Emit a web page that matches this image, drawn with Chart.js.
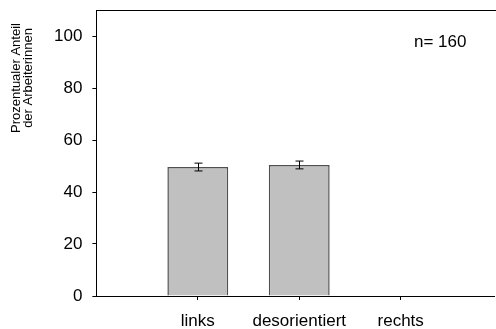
<!DOCTYPE html>
<html>
<head>
<meta charset="utf-8">
<script src="https://cdn.jsdelivr.net/npm/chart.js@4"></script>
<style>
  html, body { margin: 0; padding: 0; background: #fff; }
  #wrap { width: 496px; height: 329px; }
</style>
</head>
<body>
<div id="wrap"><canvas id="c" width="496" height="329"></canvas></div>
<script>
// Orientation of workers (share in %), n = 160
const categories = ['links', 'desorientiert', 'rechts'];
const positions = [1, 2, 3];
const shares = [49.6, 50.4, 0];
const errors = [1.5, 1.5, 0];
const yTicks = [0, 20, 40, 60, 80, 100];
const yTitle = ['Prozentualer Anteil', 'der Arbeiterinnen'];
const sampleNote = 'n= 160';

const FONT = "'Liberation Sans', Arial, sans-serif";

// error bars, top frame line, axis title and sample-size note
const extras = {
  id: 'extras',
  afterDatasetsDraw(chart) {
    const { ctx, chartArea, scales } = chart;
    const x = scales.x, y = scales.y;
    ctx.save();
    ctx.strokeStyle = '#000';
    ctx.lineWidth = 1;
    shares.forEach((v, i) => {
      if (!errors[i]) return;
      const px = Math.round(x.getPixelForValue(positions[i])) + 0.5;
      const top = y.getPixelForValue(v + errors[i]);
      const bot = y.getPixelForValue(v - errors[i]);
      ctx.beginPath();
      ctx.moveTo(px, top); ctx.lineTo(px, bot);
      ctx.moveTo(px - 4, top); ctx.lineTo(px + 4, top);
      ctx.moveTo(px - 4, bot); ctx.lineTo(px + 4, bot);
      ctx.stroke();
    });
    ctx.beginPath();
    ctx.moveTo(chartArea.left, chartArea.top + 0.5);
    ctx.lineTo(chart.width, chartArea.top + 0.5);
    ctx.stroke();

    ctx.fillStyle = '#000';
    ctx.font = '17px ' + FONT;
    ctx.textAlign = 'left';
    ctx.textBaseline = 'alphabetic';
    ctx.fillText(sampleNote, 414, 47);

    // rotated y-axis title, two centred lines
    ctx.font = '13px ' + FONT;
    ctx.textAlign = 'center';
    ctx.translate(0, 78);
    ctx.rotate(-Math.PI / 2);
    ctx.fillText(yTitle[0], 0, 20);
    ctx.fillText(yTitle[1], 0, 32);
    ctx.restore();
  }
};

new Chart(document.getElementById('c'), {
  type: 'bar',
  data: {
    datasets: [{
      data: positions.map((p, i) => ({ x: p, y: shares[i] })),
      backgroundColor: '#c0c0c0',
      borderColor: '#505050',
      borderWidth: 1.5,
      barPercentage: 0.6,
      categoryPercentage: 1.0
    }]
  },
  options: {
    responsive: false,
    animation: false,
    devicePixelRatio: 1,
    layout: { padding: { top: 10, right: 2, left: 44, bottom: -14 } },
    plugins: { legend: { display: false }, tooltip: { enabled: false } },
    scales: {
      x: {
        type: 'linear',
        offset: false,
        min: 0,
        max: 3.92,
        afterBuildTicks(scale) { scale.ticks = positions.map(v => ({ value: v })); },
        afterFit(scale) { scale.paddingLeft = 0; scale.paddingRight = 0; },
        ticks: {
          callback: (v) => categories[positions.indexOf(v)] || '',
          color: '#000',
          font: { family: FONT, size: 17, lineHeight: 1.0 },
          padding: 13,
          maxRotation: 0,
          autoSkip: false
        },
        grid: { offset: false, drawOnChartArea: false, drawTicks: true, tickLength: 4, color: '#000' },
        border: { color: '#000', width: 1 }
      },
      y: {
        min: 0,
        max: 110,
        afterBuildTicks(scale) { scale.ticks = yTicks.map(v => ({ value: v })); },
        afterFit(scale) { scale.paddingTop = 0; scale.paddingBottom = 0; },
        ticks: {
          color: '#000',
          font: { family: FONT, size: 17 },
          padding: 10
        },
        grid: { drawOnChartArea: false, drawTicks: true, tickLength: 4, color: '#000' },
        border: { color: '#000', width: 1 }
      }
    }
  },
  plugins: [extras]
});
</script>
</body>
</html>
